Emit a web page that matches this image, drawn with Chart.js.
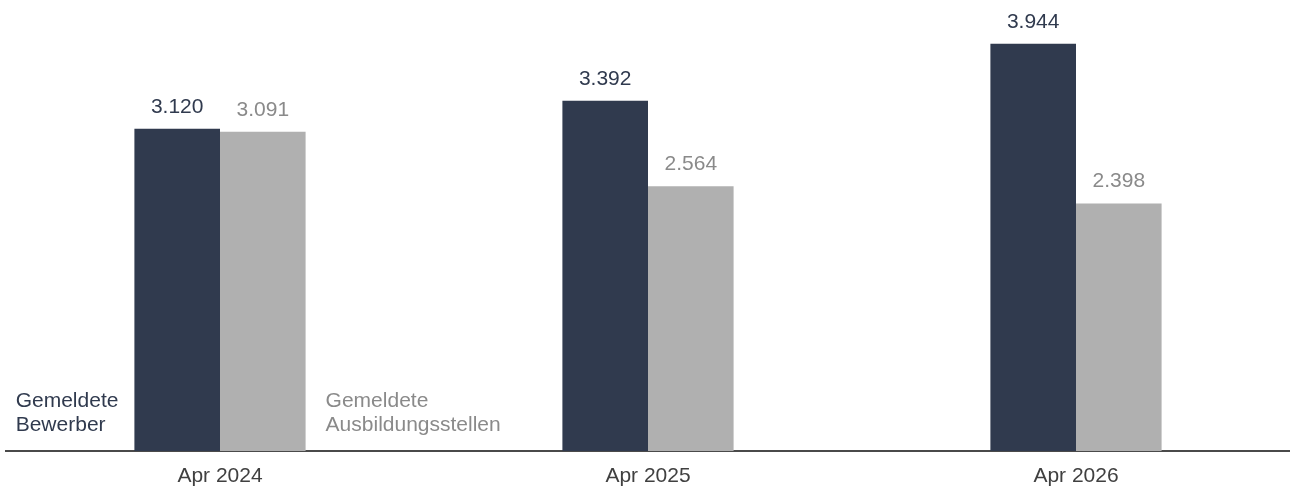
<!DOCTYPE html>
<html>
<head>
<meta charset="utf-8">
<script src="https://cdn.jsdelivr.net/npm/chart.js@4/dist/chart.umd.min.js"></script>
<style>
  html, body { margin: 0; padding: 0; background: #fff; }
  #wrap { width: 1290px; height: 489px; }
</style>
</head>
<body>
<div id="wrap"><canvas id="jobChart"></canvas></div>
<script>
// data
const categories = ['Apr 2024', 'Apr 2025', 'Apr 2026'];
const bewerber = [3120, 3392, 3944];
const stellen = [3091, 2564, 2398];
const seriesNames = [['Gemeldete', 'Bewerber'], ['Gemeldete', 'Ausbildungsstellen']];

const DARK = '#303a4e';
const GRAY = '#b0b0b0';
const GRAY_TEXT = '#8a8a8a';
const FONT = '"Liberation Sans", Arial, sans-serif';
const FONT_SIZE = 21;

function fmt(v) {
    // German thousands separator
    return String(v).replace(/\B(?=(\d{3})+(?!\d))/g, '.');
}

// value labels above bars + the two series captions beside the first group
const labelPlugin = {
    id: 'barLabels',
    afterDatasetsDraw(chart) {
        const ctx = chart.ctx;
        const textColors = [DARK, GRAY_TEXT];
        ctx.save();
        ctx.font = FONT_SIZE + 'px ' + FONT;
        ctx.textAlign = 'center';
        ctx.textBaseline = 'alphabetic';
        chart.data.datasets.forEach((ds, di) => {
            const meta = chart.getDatasetMeta(di);
            ctx.fillStyle = textColors[di];
            meta.data.forEach((bar, i) => {
                ctx.fillText(fmt(ds.data[i]), bar.x, bar.y - 16);
            });
        });

        // captions next to the first category
        ctx.textAlign = 'left';
        const first0 = chart.getDatasetMeta(0).data[0];
        const first1 = chart.getDatasetMeta(1).data[0];
        const base = chart.chartArea.bottom;
        const lines0 = seriesNames[0];
        const w0 = Math.max(...lines0.map(t => ctx.measureText(t).width));
        ctx.fillStyle = DARK;
        lines0.forEach((t, k) => {
            ctx.fillText(t, first0.x - first0.width / 2 - 16 - w0, base - 44 + k * 24);
        });
        ctx.fillStyle = GRAY_TEXT;
        seriesNames[1].forEach((t, k) => {
            ctx.fillText(t, first1.x + first1.width / 2 + 20, base - 44 + k * 24);
        });
        ctx.restore();
    }
};

const ctx = document.getElementById('jobChart').getContext('2d');
const jobChart = new Chart(ctx, {
    type: 'bar',
    data: {
        labels: categories,
        datasets: [
            {
                label: 'Gemeldete Bewerber',
                data: bewerber,
                backgroundColor: DARK,
                categoryPercentage: 0.4,
                barPercentage: 1.0
            },
            {
                label: 'Gemeldete Ausbildungsstellen',
                data: stellen,
                backgroundColor: GRAY,
                categoryPercentage: 0.4,
                barPercentage: 1.0
            }
        ]
    },
    options: {
        responsive: true,
        maintainAspectRatio: false,
        animation: false,
        layout: {
            padding: { left: 6, right: 0, top: 7, bottom: 0 }
        },
        scales: {
            x: {
                grid: { display: false, drawTicks: false },
                border: { display: true, color: '#4a4a4a', width: 2 },
                ticks: {
                    color: '#404040',
                    padding: 13,
                    font: { family: FONT, size: FONT_SIZE }
                },
                afterFit(scale) { scale.height = 38; }
            },
            y: {
                display: false,
                min: 0,
                max: 4300
            }
        },
        plugins: {
            legend: { display: false },
            tooltip: { enabled: false }
        }
    },
    plugins: [labelPlugin]
});
</script>
</body>
</html>
